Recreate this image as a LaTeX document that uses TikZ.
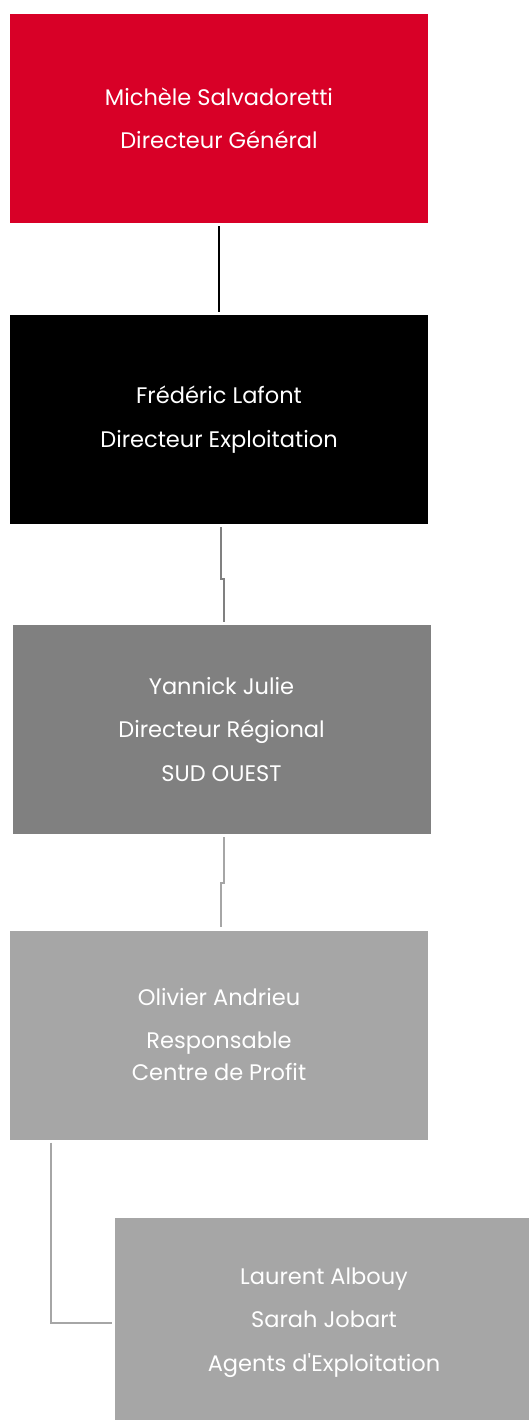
\documentclass[tikz,border=0pt]{standalone}
\usepackage{fontspec}
\newfontfamily\postfont{Poppins}
\definecolor{dgred}{HTML}{D80027}
\definecolor{regrey}{HTML}{808080}
\definecolor{rcgrey}{HTML}{A6A6A6}
\tikzset{
  post/.style={rectangle, inner sep=0pt, minimum width=418pt, minimum height=209pt,
    text=white, align=center, font=\postfont\fontsize{22.5}{43.5}\selectfont},
  link/.style={line width=2pt, shorten <=3pt, shorten >=3pt}
}
\begin{document}
\begin{tikzpicture}[x=1pt,y=-1pt]
  \useasboundingbox (0,0) rectangle (528,1420);
  \node[post, fill=dgred] (dg) at (219,118.5) {Michèle Salvadoretti\\Directeur Général};
  \node[post, fill=black] (dex) at (219,419.5) {Frédéric Lafont\\Directeur Exploitation};
  \node[post, fill=regrey] (dr) at (221.5,729.5) {Yannick Julie\\Directeur Régional\\SUD OUEST};
  \node[post, fill=rcgrey] (rcp) at (219,1035) {Olivier Andrieu\\[-1pt]Responsable\\[-11pt]Centre de Profit};
  \node[post, fill=rcgrey] (ae) at (324,1322.5) {Laurent Albouy\\Sarah Jobart\\Agents d'Exploitation};
  % liaisons
  \draw[link, black] (dg) -- (dex);
  \draw[link, regrey] ([xshift=2pt]dex.south) -- ++(0,55) -| ([xshift=2pt]dr.north);
  \draw[link, rcgrey] ([xshift=2pt]dr.south) -- ++(0,49) -| ([xshift=2pt]rcp.north);
  \draw[link, rcgrey] ([xshift=-168pt]rcp.south) |- (ae.west);
\end{tikzpicture}
\end{document}
